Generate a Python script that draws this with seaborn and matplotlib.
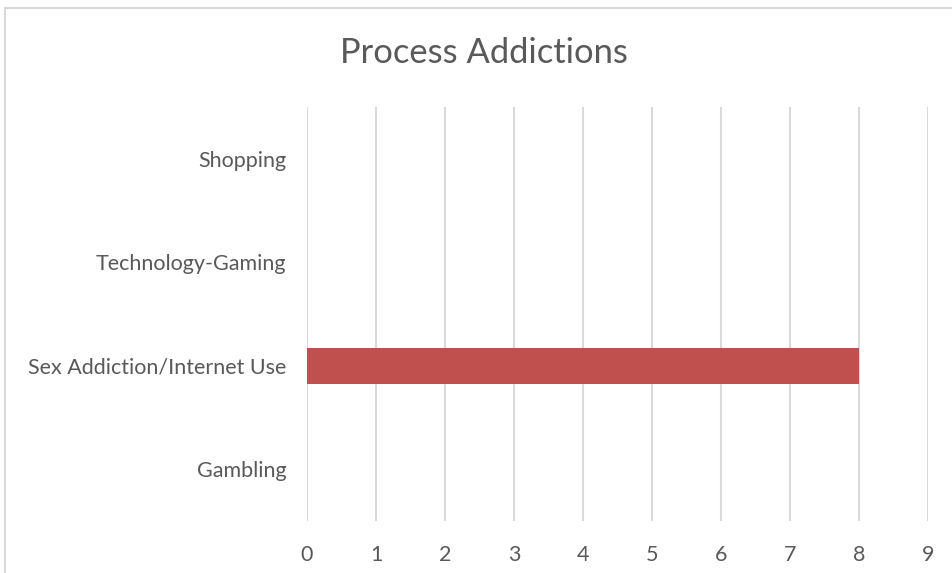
import matplotlib
matplotlib.use("Agg")
import matplotlib.pyplot as plt
from matplotlib.patches import Rectangle
import seaborn as sns
import pandas as pd

categories = ["Shopping", "Technology-Gaming", "Sex Addiction/Internet Use", "Gambling"]
values = [0, 0, 8, 0]
x_ticks = [0, 1, 2, 3, 4, 5, 6, 7, 8, 9]
title = "Process Addictions"

sns.set_theme(style="white")
plt.rcParams["font.family"] = ["Lato", "DejaVu Sans"]

df = pd.DataFrame({"category": categories, "count": values})

W, H = 953, 573
fig = plt.figure(figsize=(W / 100, H / 100), dpi=100)
ax = fig.add_axes([307 / W, 1 - 521 / H, (928 - 307) / W, (521 - 107) / H])

sns.barplot(data=df, y="category", x="count", order=categories, orient="h",
            color="#C0504D", saturation=1, width=0.35, linewidth=0,
            ax=ax, zorder=3)

ax.set_xlim(0, 9)
ax.set_xticks(x_ticks)
ax.set_xticklabels([str(t) for t in x_ticks])
ax.grid(axis="x", color="#D9D9D9", linewidth=1.5, zorder=0)
ax.grid(axis="y", visible=False)
ax.set_axisbelow(True)
for s in ax.spines.values():
    s.set_visible(False)
ax.set_xlabel("")
ax.set_ylabel("")
ax.tick_params(axis="both", length=0, labelsize=15.5, colors="#595959")
ax.tick_params(axis="x", pad=17)
ax.tick_params(axis="y", pad=15)

fig.text((342 + 626) / 2 / W, 1 - 53 / H, title, ha="center", va="center",
         fontsize=24.8, color="#595959")

# outer chart border (partially visible)
fig.add_artist(Rectangle((5.5 / W, -0.1), 1.2, 1 - 8.5 / H + 0.1,
                         transform=fig.transFigure, fill=False,
                         edgecolor="#D9D9D9", linewidth=1.5))

fig.savefig("out.png", dpi=100, facecolor="white")
